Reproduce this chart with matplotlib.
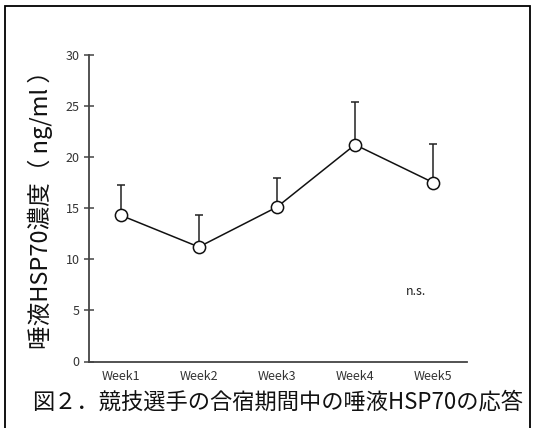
import matplotlib
matplotlib.use("Agg")
import matplotlib.pyplot as plt
from matplotlib.patches import Rectangle

plt.rcParams['font.family'] = ['Noto Sans CJK JP', 'DejaVu Sans']

weeks = ["Week1", "Week2", "Week3", "Week4", "Week5"]
hsp70_mean = [14.3, 11.2, 15.1, 21.2, 17.5]
hsp70_sd = [3.0, 3.1, 2.8, 4.2, 3.8]
y_ticks = [0, 5, 10, 15, 20, 25, 30]

fig = plt.figure(figsize=(5.36, 4.28), dpi=100)
fig.patch.set_facecolor("white")

# outer frame (open at the bottom edge of the canvas)
fig.add_artist(Rectangle((5 / 536, -0.05), 525 / 536, 1 - 6 / 428 + 0.05,
                         transform=fig.transFigure, fill=False,
                         edgecolor="black", linewidth=1.3))

ax = fig.add_axes([88.7 / 536, 1 - 361.5 / 428, (466.7 - 88.7) / 536, (361.5 - 54.7) / 428])
x = list(range(len(weeks)))

ax.errorbar(x, hsp70_mean, yerr=[[0] * len(hsp70_sd), hsp70_sd], fmt="none",
            ecolor="#222222", elinewidth=1.1, capsize=3, capthick=1.1, zorder=2)
ax.plot(x, hsp70_mean, color="#111111", linewidth=1.1, marker="o", markersize=8.8,
        markerfacecolor="white", markeredgecolor="#111111", markeredgewidth=1.1, zorder=3)

ax.set_xlim(-0.41, 4.43)
ax.set_ylim(0, 30)
ax.set_yticks(y_ticks)
ax.set_yticklabels([str(t) for t in y_ticks], fontsize=9, color="#333333")
ax.set_xticks(x)
ax.set_xticklabels(weeks, fontsize=9, color="#333333")
ax.tick_params(axis="x", length=0, pad=6)
ax.tick_params(axis="y", direction="inout", length=7, width=1.1, color="#444444", pad=3)

for s in ("top", "right"):
    ax.spines[s].set_visible(False)
for s in ("left", "bottom"):
    ax.spines[s].set_color("#444444")
    ax.spines[s].set_linewidth(1.3)

ax.text(4 - 0.22, 6.8, "n.s.", fontsize=9, color="#222222", ha="center", va="center")

fig.text(40 / 536, 1 - 204 / 428, "唾液HSP70濃度（ ng/ml ）", rotation=90,
         fontsize=17, ha="center", va="center", color="#111111")

fig.text(32 / 536, 1 - 402 / 428, "図２．競技選手の合宿期間中の唾液HSP70の応答",
         fontsize=16, ha="left", va="center", color="#111111")

fig.savefig("out.png", dpi=100, facecolor="white")
